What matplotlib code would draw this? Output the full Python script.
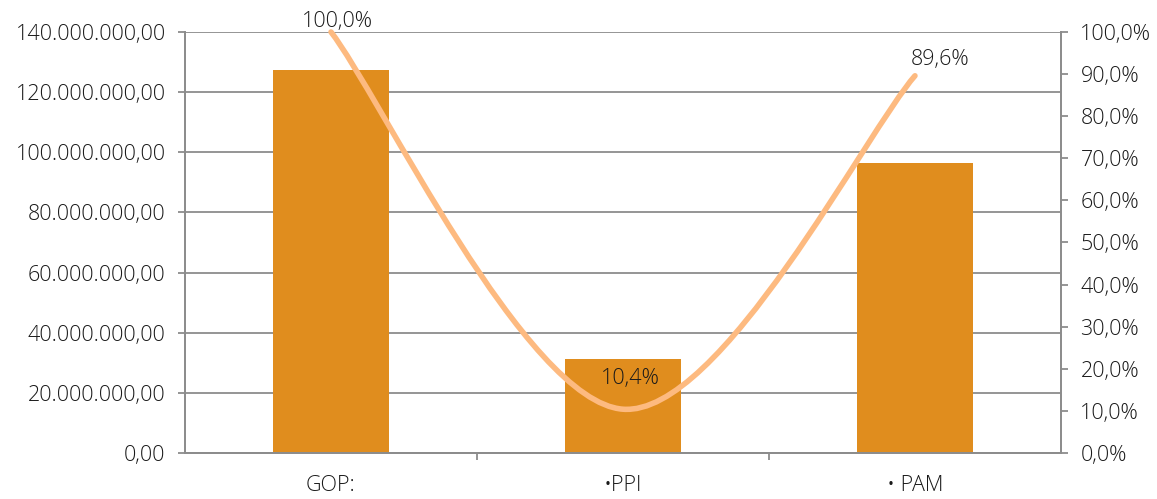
import matplotlib
matplotlib.use("Agg")
import matplotlib.pyplot as plt
from matplotlib.path import Path
from matplotlib.patches import PathPatch
from matplotlib.ticker import FuncFormatter, FixedLocator

categories = ["GOP:", "\u2022PPI", "\u2022 PAM"]
valores = [127400000, 31300000, 96400000]
percentuais = [100.0, 10.4, 89.6]

plt.rcParams['font.family'] = ['Open Sans', 'DejaVu Sans']
plt.rcParams['font.weight'] = 'light'
txt = '#1a1a1a'
grid = '#8c8c8c'
fs = 15.5

fig = plt.figure(figsize=(11.57, 4.99), dpi=100)
ax = fig.add_axes([0.1599, 0.0922, 0.7571, 0.8437])
ax2 = ax.twinx()

x = list(range(len(categories)))
ax.bar(x, valores, width=0.4, color='#E08D1E', zorder=2)
ax.set_xlim(-0.5, 2.5)
ax.set_ylim(0, 140000000)
ax.set_yticks(range(0, 140000001, 20000000))

def fmt_val(v, pos):
    s = f"{v:,.2f}"
    return s.replace(",", "X").replace(".", ",").replace("X", ".")

ax.yaxis.set_major_formatter(FuncFormatter(fmt_val))
ax.grid(axis='y', color=grid, linewidth=1.3, zorder=0)
ax.set_axisbelow(True)

for a in (ax, ax2):
    a.spines['top'].set_visible(False)
    for s in ('left', 'right', 'bottom'):
        a.spines[s].set_color(grid)
        a.spines[s].set_linewidth(1.3)

ax.set_xticks(x)
ax.set_xticklabels(categories)
ax.xaxis.set_minor_locator(FixedLocator([0.5, 1.5]))
ax.tick_params(axis='x', which='major', length=0, pad=16, labelsize=fs, labelcolor=txt)
ax.tick_params(axis='x', which='minor', length=5, width=1.3, color=grid)
ax.tick_params(axis='y', length=5, width=1.3, color=grid, labelsize=fs, labelcolor=txt, pad=9)

ax2.set_ylim(0, 100)
ax2.set_yticks(range(0, 101, 10))
ax2.yaxis.set_major_formatter(FuncFormatter(lambda v, p: f"{v:.1f}%".replace(".", ",")))
ax2.tick_params(axis='y', length=5, width=1.3, color=grid, labelsize=fs, labelcolor=txt, pad=9)

# linha suavizada (Catmull-Rom -> Bezier cubica)
pts = list(zip(x, percentuais))
verts = [pts[0]]
codes = [Path.MOVETO]
for i in range(len(pts) - 1):
    p0 = pts[i - 1] if i > 0 else pts[i]
    p1 = pts[i]
    p2 = pts[i + 1]
    p3 = pts[i + 2] if i + 2 < len(pts) else pts[i + 1]
    c1 = (p1[0] + (p2[0] - p0[0]) / 6, p1[1] + (p2[1] - p0[1]) / 6)
    c2 = (p2[0] - (p3[0] - p1[0]) / 6, p2[1] - (p3[1] - p1[1]) / 6)
    verts += [c1, c2, p2]
    codes += [Path.CURVE4] * 3
ax2.add_patch(PathPatch(Path(verts, codes), fill=False, edgecolor='#FDBA80',
                        linewidth=4, capstyle='round', clip_on=False, zorder=3))

offsets = [(6, 10), (7, 31), (25, 16)]
for xi, p, off in zip(x, percentuais, offsets):
    ax2.annotate(f"{p:.1f}%".replace(".", ","), (xi, p), xytext=off,
                 textcoords='offset pixels', ha='center', va='center',
                 fontsize=fs, color=txt, zorder=4)

fig.savefig("out.png", dpi=100)
